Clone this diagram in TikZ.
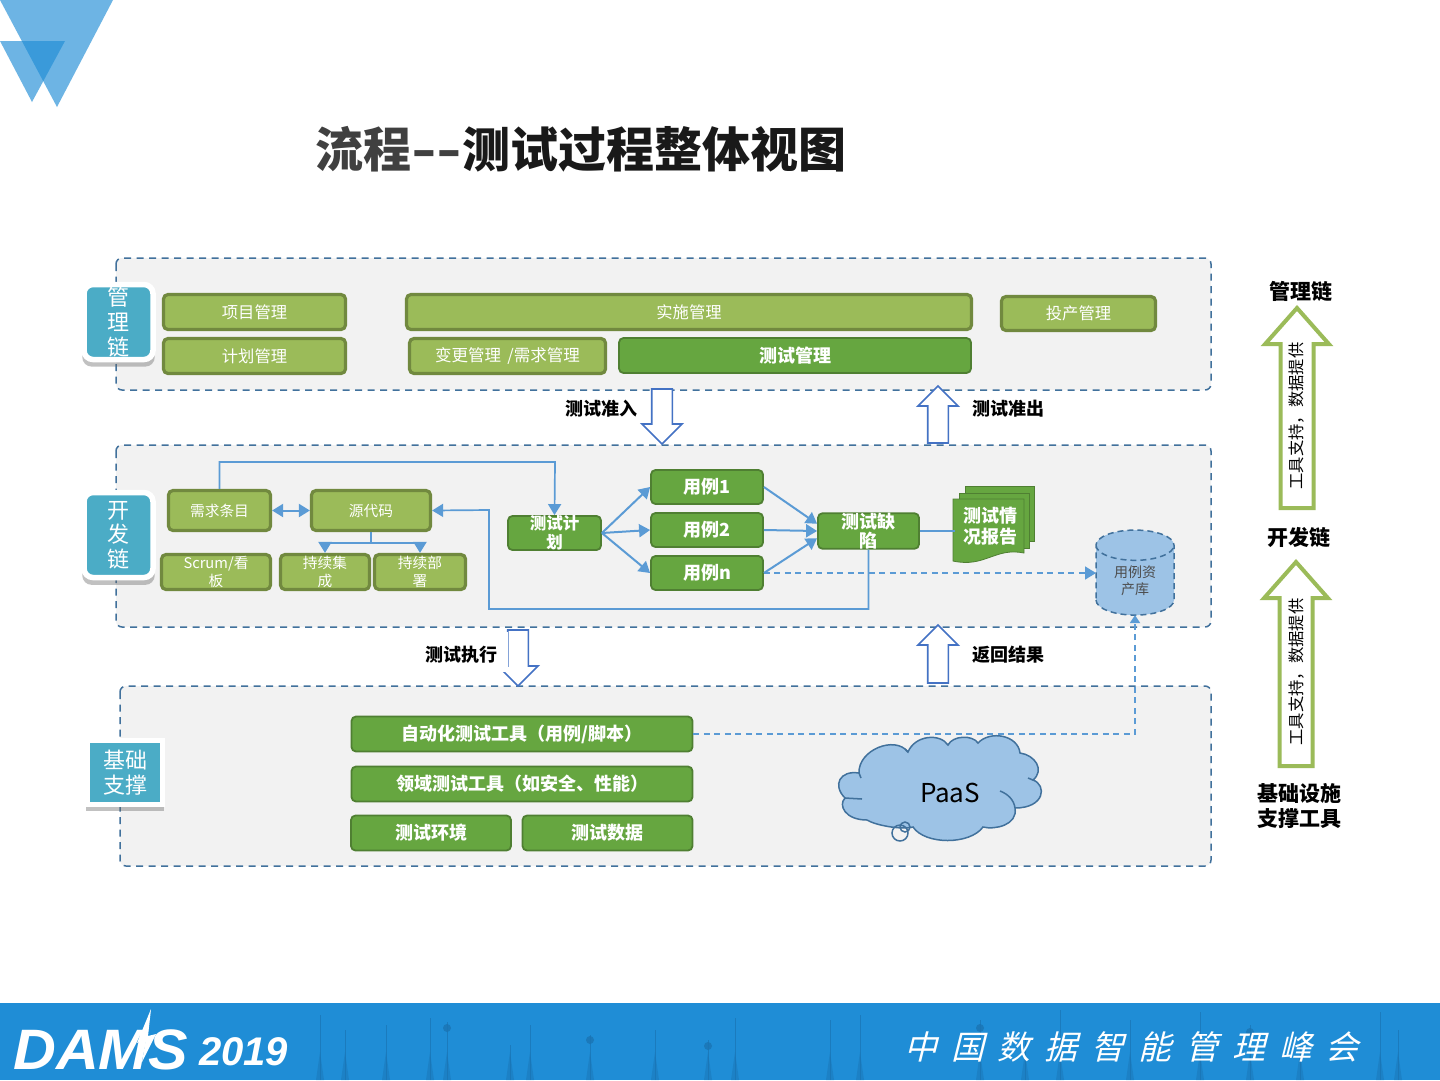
\documentclass[tikz,border=0pt]{standalone}
\usepackage{fontspec}
\setmainfont{Noto Sans CJK SC}
\newfontfamily\footfont[FakeSlant=0.25,LetterSpace=42]{Noto Sans CJK SC}
\newfontfamily\damsfont{Liberation Sans}
\usetikzlibrary{arrows.meta,shapes.geometric,shapes.arrows,shadows}
\definecolor{panelfill}{HTML}{F2F2F2}
\definecolor{paneldash}{HTML}{41719C}
\definecolor{lightgreen}{HTML}{9BBB59}
\definecolor{lightedge}{HTML}{71893F}
\definecolor{darkgreen}{HTML}{66A640}
\definecolor{darkedge}{HTML}{4F7F32}
\definecolor{tealbox}{HTML}{4BACC6}
\definecolor{flowblue}{HTML}{5B9BD5}
\definecolor{arrowblue}{HTML}{4472C4}
\definecolor{cloudblue}{HTML}{9DC3E6}
\definecolor{bandblue}{HTML}{1F8DD6}
\definecolor{towerblue}{HTML}{1A74B3}
\newcommand{\fs}[2]{\fontsize{#1}{#2}\selectfont}

\begin{document}
\begin{tikzpicture}[x=1pt, y=-1pt,
  panel/.style={draw=paneldash, fill=panelfill, line width=1.5pt, dash pattern=on 7pt off 5.5pt, rounded corners=6pt},
  lbox/.style={draw=lightedge, fill=lightgreen, line width=3.2pt, rounded corners=4.5pt, text=white, inner sep=0pt, font=\fs{16.3}{18.5}, align=center},
  devbox/.style={lbox, font=\fs{14.7}{18.5}},
  dbox/.style={draw=darkedge, fill=darkgreen, line width=1.8pt, rounded corners=4.5pt, text=white, inner sep=0pt, font=\fs{18}{18.5}\bfseries, align=center},
  tagbox/.style={draw=white, fill=tealbox, line width=5.5pt, inner sep=0pt, rounded corners=9pt, drop shadow={shadow xshift=0pt, shadow yshift=-5pt, shadow scale=1.05, fill=black!60, opacity=0.4}},
  tagtext/.style={text=white, align=center, inner sep=0pt, font=\fs{22}{24.7}},
  flow/.style={draw=flowblue, line width=2pt, -{Triangle[length=11pt,width=13pt]}},
  thinflow/.style={draw=flowblue, line width=1.7pt, -{Triangle[length=11pt,width=13pt]}},
  dashflow/.style={draw=flowblue, line width=1.7pt, dash pattern=on 6pt off 4.5pt},
  barrow/.style={single arrow, draw=arrowblue, fill=white, line width=1.7pt, inner sep=9.5pt, outer sep=0pt, anchor=tip, single arrow head extend=9.7pt},
  garrow/.style={single arrow, draw=lightgreen, fill=white, line width=4pt, inner sep=14.5pt, outer sep=0pt, anchor=tip, shape border rotate=90, single arrow head extend=15.5pt, single arrow tip angle=83},
  caption/.style={font=\fs{18}{20}\bfseries, text=black, inner sep=0pt},
  sidetext/.style={font=\fs{21}{25}\bfseries, text=black, inner sep=0pt, align=center},
  sheet/.style={draw=darkedge, fill=darkgreen, line width=0.8pt},
  tower/.style={draw=towerblue, line width=0.9pt}]
\useasboundingbox (0,0) rectangle (1440,1080);
\fill[white] (0,0) rectangle (1440,1080);

\fill[bandblue] (0,1003) rectangle (1440,1080);
\foreach \x/\t in {320/1015, 345/1030, 386/1025, 430/1018, 447/1022, 510/1045, 530/1025, 590/1035, 655/1030, 708/1040, 735/1018, 830/1020, 860/1015, 980/1020, 1025/1040, 1060/1010, 1130/1020, 1200/1012, 1250/1025, 1300/1040, 1380/1012, 1398/1030} { \draw[tower, opacity=0.7] (\x,1080) -- (\x,\t); \fill[towerblue, opacity=0.45] (\x-4,1080) -- (\x,1080-28) -- (\x+4,1080) -- cycle; }
\foreach \x/\t in {447/1028, 590/1040, 708/1046, 980/1028, 1250/1032} { \fill[towerblue, opacity=0.8] (\x,\t) circle (4); }
\fill[white] (151,1009) -- (137,1043) -- (146,1039) -- (142,1062) -- (156,1034) -- (148,1036) -- cycle;
\node[anchor=west, text=white, inner sep=0pt, font=\damsfont\fs{57}{57}\bfseries\itshape] (damslogo) at (13,1050) {\scalebox{1.04}[1]{DAMS}};
\node[anchor=west, text=white, inner sep=0pt, font=\damsfont\fs{40}{40}\bfseries\itshape] (damsyear) at (199,1052) {2019};
\node[anchor=west, text=white, inner sep=0pt, font=\footfont\fs{33}{33}] (damsname) at (904,1047) {中国数据智能管理峰会};

\fill[bandblue, opacity=0.65] (0,0) -- (113,0) -- (57,107) -- cycle;
\fill[bandblue, opacity=0.65] (0,41) -- (65,41) -- (32,102) -- cycle;
\node[anchor=west, inner sep=0pt, font=\fs{48}{48}\bfseries] (title) at (315,149) {\textcolor{black!75}{流程\scalebox{1.4}[1]{-{}-}}\textcolor{black!90}{测试过程整体视图}};

\draw[panel] (116,258) rectangle (1211,390);
\draw[panel] (116,445) rectangle (1211,627);
\draw[panel] (120,686) rectangle (1211,866);

\node[tagbox, minimum width=69pt, minimum height=75pt] (mgmtbox) at (118.5,322) {};
\node[tagtext] (mgmttag) at (mgmtbox) {管\\理\\链};
\node[tagbox, minimum width=69pt, minimum height=85pt] (devtagbox) at (118.5,535) {};
\node[tagtext] (devtag) at (devtagbox) {开\\发\\链};
\node[tagbox, rounded corners=0pt, minimum width=75pt, minimum height=64pt] (basebox) at (125,772.5) {};
\node[tagtext] (basetag) at (basebox) {基础\\支撑};

\node[lbox, minimum width=182pt, minimum height=35pt] (projmgr) at (254.5,312) {项目管理};
\node[lbox, minimum width=182pt, minimum height=35pt] (planmgr) at (254.5,356) {计划管理};
\node[lbox, minimum width=565pt, minimum height=35pt] (implmgr) at (689,312) {实施管理};
\node[lbox, minimum width=196pt, minimum height=35pt, font=\fs{16.5}{18.5}] (chgmgr) at (507.5,356) {变更管理 \,/需求管理};
\node[dbox, minimum width=352pt, minimum height=35pt] (testmgr) at (795,355.5) {测试管理};
\node[lbox, minimum width=154pt, minimum height=34pt] (opsmgr) at (1078.5,313.5) {投产管理};

\node[devbox, minimum width=102pt, minimum height=40pt] (req) at (219.5,510.5) {需求条目};
\node[devbox, minimum width=119pt, minimum height=40pt] (code) at (371,510.5) {源代码};
\node[devbox, minimum width=109pt, minimum height=35pt] (scrum) at (216,572) {Scrum/看\\板};
\node[devbox, minimum width=89pt, minimum height=35pt] (ci) at (325,572) {持续集\\成};
\node[devbox, minimum width=91pt, minimum height=35pt] (cd) at (420,572) {持续部\\署};
\node[dbox, minimum width=93pt, minimum height=34pt, font=\fs{16.5}{18.5}\bfseries] (plan) at (554.5,533) {测试计\\划};
\node[dbox, minimum width=112pt, minimum height=34pt] (case1) at (707,487) {用例1};
\node[dbox, minimum width=112pt, minimum height=34pt] (case2) at (707,530) {用例2};
\node[dbox, minimum width=112pt, minimum height=34pt] (casen) at (707,573) {用例n};
\node[dbox, minimum width=101pt, minimum height=34pt] (defect) at (868.5,531) {测试缺\\陷};

\draw[sheet] (965,486) rectangle (1034,541);
\draw[sheet] (959,493) rectangle (1029,548);
\draw[sheet] (953,499) -- (1024,499) -- (1024,553) .. controls (995,547) and (985,568) .. (953,561) -- cycle;
\node[text=white, inner sep=0pt, minimum width=71pt, minimum height=54pt, align=center, font=\fs{18}{21.5}\bfseries] (report) at (990.5,526) {测试情\\况报告};

\node[cylinder, shape border rotate=90, aspect=0.72, draw=paneldash, fill=cloudblue, line width=1.5pt, dash pattern=on 6pt off 4pt, minimum width=78pt, minimum height=85pt, inner sep=0pt, outer sep=0pt, align=center, text=black!70, font=\fs{14}{17}] (assets) at (1135,580.5) {用例资\\产库};

\coordinate (reqbend) at (555,462);
\coordinate (backa) at (489,510);
\coordinate (backb) at (489,609);
\coordinate (cicd) at (371,543);
\draw[thinflow] (req.north) |- (reqbend) -- (plan.north);
\draw[thinflow] (defect.south) |- (backb) -- (backa) -- (code.east);
\draw[flow, {Triangle[length=11pt,width=13pt]}-{Triangle[length=11pt,width=13pt]}] (req) -- (code);
\draw[draw=flowblue, line width=2pt] (code.south) -- (cicd);
\draw[flow] (cicd) -| (ci.north);
\draw[flow] (cicd) -| (cd.north);
\draw[flow] (plan.east) -- (case1.west);
\draw[flow] (plan.east) -- (case2.west);
\draw[flow] (plan.east) -- (casen.west);
\draw[flow] (case1.east) -- (defect.172);
\draw[flow] (case2.east) -- (defect.west);
\draw[flow] (casen.east) -- (defect.188);
\draw[draw=flowblue, line width=2pt] (defect.east) -- (defect.east -| report.west);
\draw[dashflow, -{Triangle[length=11pt,width=13pt]}] (casen.east) -- (assets.west |- casen.east);

\node[dbox, minimum width=341pt, minimum height=35pt] (autotool) at (522,734) {自动化测试工具（用例/脚本）};
\node[dbox, minimum width=341pt, minimum height=35pt] (domaintool) at (522,784) {领域测试工具（如安全、性能）};
\node[dbox, minimum width=160pt, minimum height=35pt] (testenv) at (431,833) {测试环境};
\node[dbox, minimum width=170pt, minimum height=35pt] (testdata) at (607.5,833) {测试数据};
\draw[dashflow, -{Triangle[length=8pt,width=10pt]}] (autotool.east) -| (assets.south);

\path[draw=paneldash, fill=cloudblue, line width=1.5pt] (859,773) .. controls (858,750) and (895,735) .. (908,752) .. controls (915,735) and (940,733) .. (948,745) .. controls (953,735) and (973,735) .. (978,743) .. controls (990,730) and (1018,735) .. (1020,753) .. controls (1035,755) and (1045,770) .. (1033,780) .. controls (1047,785) and (1045,808) .. (1015,808) .. controls (1018,825) and (995,830) .. (983,827) .. controls (970,845) and (925,845) .. (913,827) .. controls (900,830) and (875,825) .. (867,820) .. controls (845,820) and (838,805) .. (845,798) .. controls (832,785) and (840,770) .. (859,773) -- cycle;
\draw[paneldash, line width=1.5pt] (845,798) -- (862,799);
\draw[paneldash, line width=1.5pt] (1015,808) .. controls (1014,800) and (1008,794) .. (1000,791);
\draw[paneldash, line width=1.5pt] (859,773) -- (861,778);
\draw[paneldash, line width=1.5pt] (908,752) -- (905,749);
\draw[paneldash, line width=1.5pt] (1033,780) -- (1028,778);
\draw[paneldash, line width=1.5pt] (900,833) circle (8);
\draw[paneldash, line width=1.5pt] (905,827) circle (5);
\node[inner sep=0pt, text=black, font=\fs{26}{26}] (paas) at (950,793) {PaaS};

\node[barrow, shape border rotate=270, minimum height=55pt] (entry) at (662,444) {};
\node[barrow, shape border rotate=90, minimum height=57pt] (exit) at (938,386) {};
\node[barrow, shape border rotate=270, minimum height=56pt] (run) at (518,686) {};
\node[barrow, shape border rotate=90, minimum height=58pt] (result) at (938,625) {};
\fill[white] (414,632) rectangle (508,672);
\node[caption] (entrytext) at (601,409) {测试准入};
\node[caption] (exittext) at (1008,409) {测试准出};
\node[caption] (runtext) at (461,655) {测试执行};
\node[caption] (resulttext) at (1008,655) {返回结果};

\node[garrow, minimum height=200pt] (upper) at (1297,308) {};
\node[garrow, minimum height=204pt] (lower) at (1296,562) {};
\node[rotate=90, inner sep=0pt, font=\fs{16.3}{16}] (uppertext) at (1297,416) {工具支持，数据提供};
\node[rotate=90, inner sep=0pt, font=\fs{16.3}{16}] (lowertext) at (1297,672) {工具支持，数据提供};
\node[sidetext] (mgmtside) at (1301,291) {管理链};
\node[sidetext] (devside) at (1299,537) {开发链};
\node[sidetext] (baseside) at (1299,806) {基础设施\\支撑工具};
\end{tikzpicture}
\end{document}
